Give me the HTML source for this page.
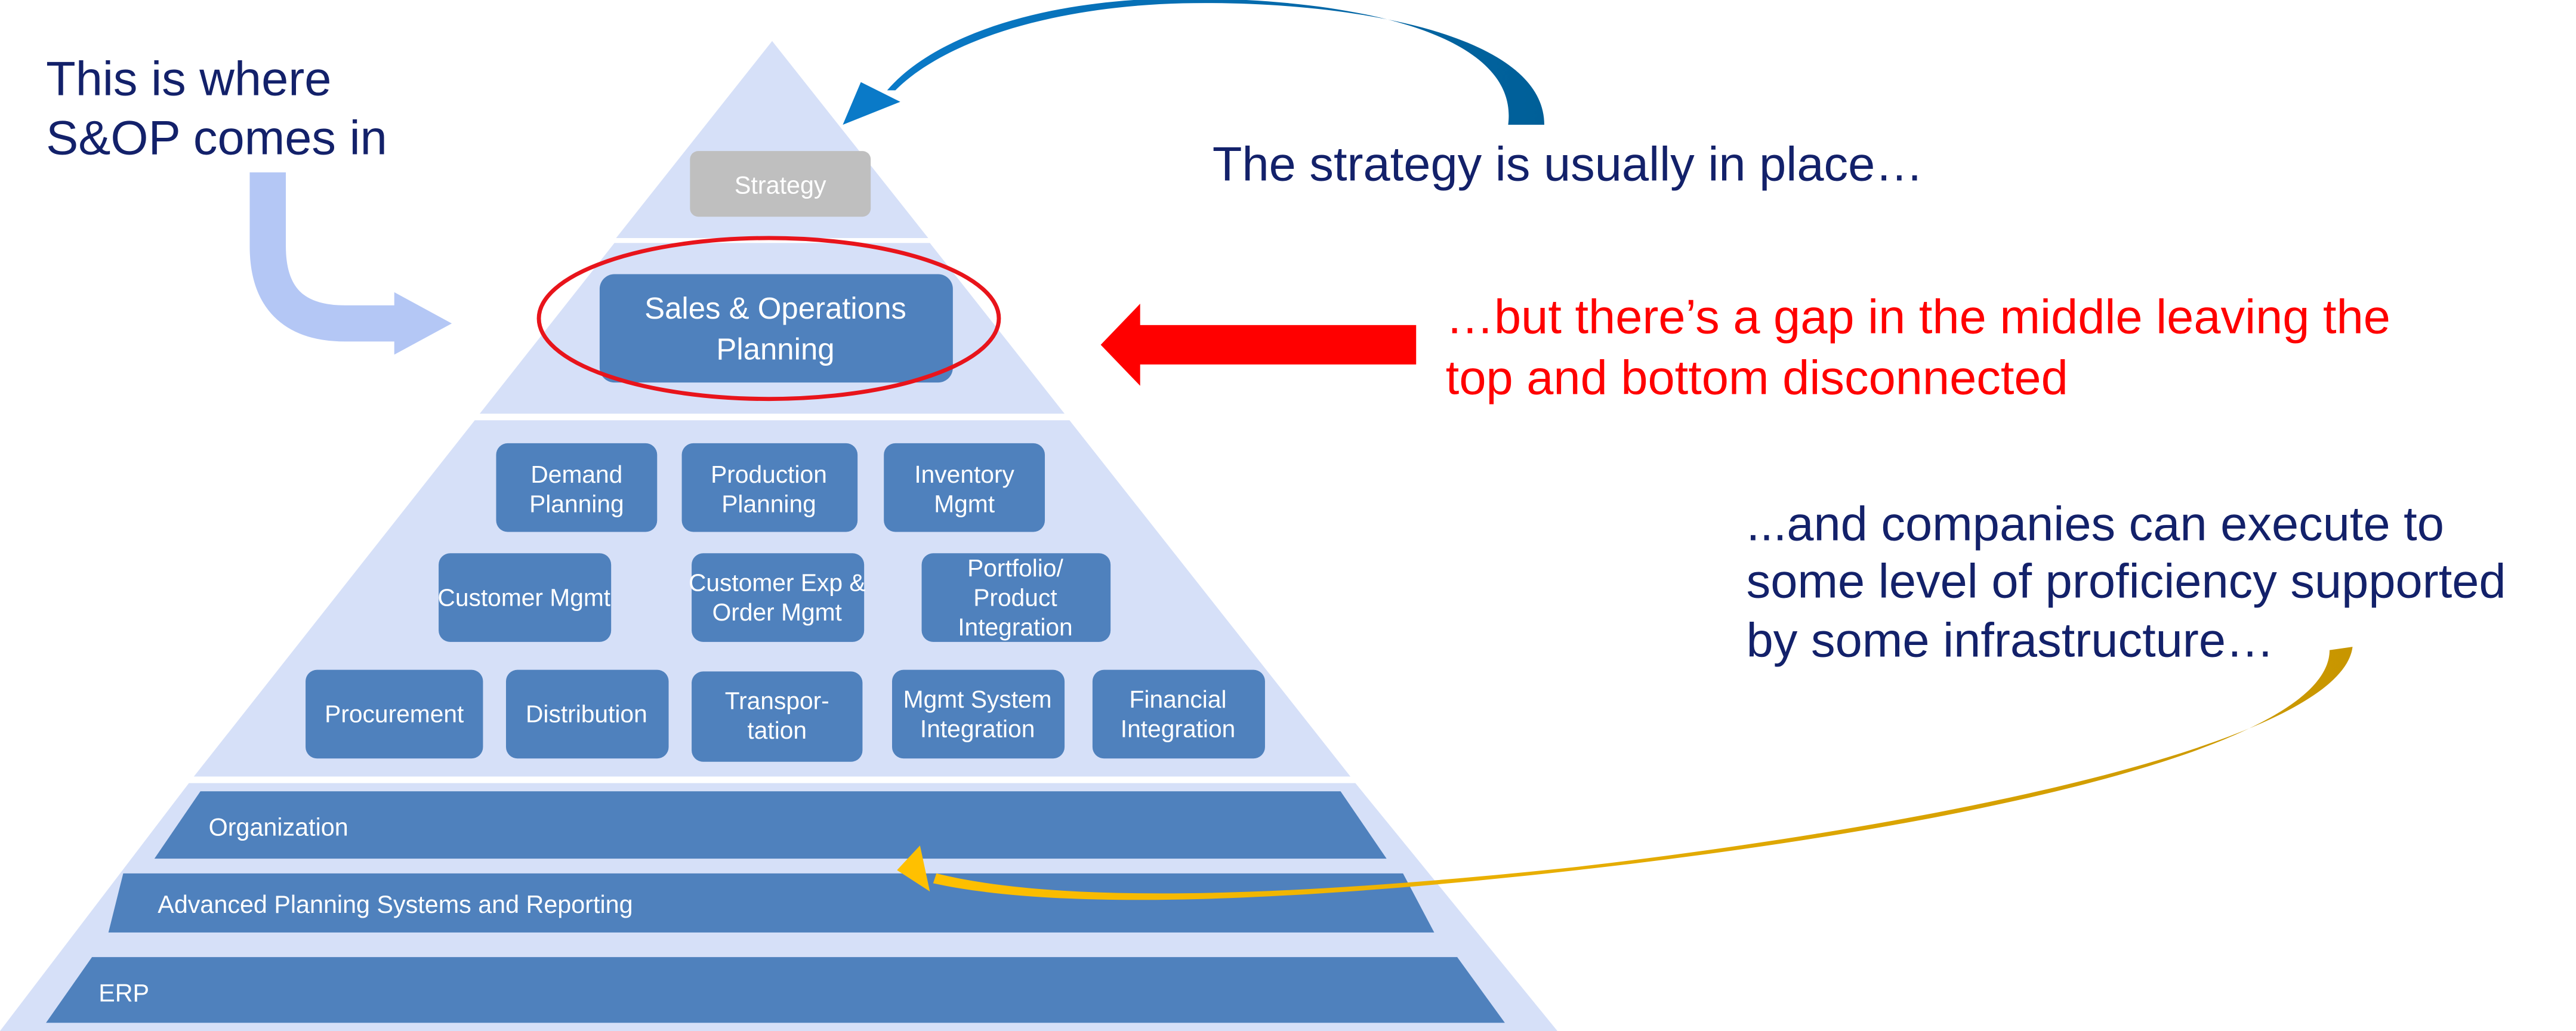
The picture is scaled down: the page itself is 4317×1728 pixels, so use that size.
<!DOCTYPE html>
<html><head><meta charset="utf-8"><style>
html,body{margin:0;padding:0;background:#fff}
svg{display:block}
text{font-family:"Liberation Sans",Arial,sans-serif}
</style></head><body>
<svg width="4317" height="1728" viewBox="0 0 1568 628" preserveAspectRatio="none" xmlns="http://www.w3.org/2000/svg">
<defs>
<linearGradient id="gb" x1="0" x2="1"><stop offset="0" stop-color="#0a7ac8"/><stop offset="1" stop-color="#005f98"/></linearGradient>
<linearGradient id="gy" x1="0" x2="1"><stop offset="0" stop-color="#ffc000"/><stop offset="1" stop-color="#c89600"/></linearGradient>
</defs>
<polygon points="470,25 565,145 375,145" fill="#d6e0f8"/>
<polygon points="374,148 566,148 648,252 292,252" fill="#d6e0f8"/>
<polygon points="289,256 651,256 822,473 118,473" fill="#d6e0f8"/>
<polygon points="115,477 825,477 948,628 0,628" fill="#d6e0f8"/>
<polygon points="122,482 816,482 844,523 94,523" fill="#4f81bd"/>
<polygon points="75,532 854,532 873,568 66,568" fill="#4f81bd"/>
<polygon points="56,583 887,583 916,623 28,623" fill="#4f81bd"/>
<g fill="#fff" font-size="15">
<text x="127" y="509">Organization</text>
<text x="96" y="556">Advanced Planning Systems and Reporting</text>
<text x="60" y="610">ERP</text>
</g>
<rect x="420" y="92" width="110" height="40" rx="5" fill="#bfbfbf"/>
<text x="475" y="118" fill="#fff" font-size="15" text-anchor="middle">Strategy</text>
<rect x="365" y="167" width="215" height="66" rx="9" fill="#4f81bd"/>
<g fill="#fff" font-size="18.5" text-anchor="middle">
<text x="472" y="194">Sales &amp; Operations</text>
<text x="472" y="219">Planning</text>
</g>
<ellipse cx="468" cy="194" rx="140" ry="49" fill="none" stroke="#e8141b" stroke-width="2.5"/>
<g fill="#4f81bd">
<rect x="302" y="270" width="98" height="54" rx="7"/>
<rect x="415" y="270" width="107" height="54" rx="7"/>
<rect x="538" y="270" width="98" height="54" rx="7"/>
<rect x="267" y="337" width="105" height="54" rx="7"/>
<rect x="421" y="337" width="105" height="54" rx="7"/>
<rect x="561" y="337" width="115" height="54" rx="7"/>
<rect x="186" y="408" width="108" height="54" rx="7"/>
<rect x="308" y="408" width="99" height="54" rx="7"/>
<rect x="421" y="409" width="104" height="55" rx="7"/>
<rect x="543" y="408" width="105" height="54" rx="7"/>
<rect x="665" y="408" width="105" height="54" rx="7"/>
</g>
<g fill="#fff" font-size="14.8" text-anchor="middle">
<text x="351" y="294">Demand</text><text x="351" y="312">Planning</text>
<text x="468" y="294">Production</text><text x="468" y="312">Planning</text>
<text x="587" y="294">Inventory</text><text x="587" y="312">Mgmt</text>
<text x="319" y="369">Customer Mgmt</text>
<text x="473" y="360">Customer Exp &amp;</text><text x="473" y="378">Order Mgmt</text>
<text x="618" y="351">Portfolio/</text><text x="618" y="369">Product</text><text x="618" y="387">Integration</text>
<text x="240" y="440">Procurement</text>
<text x="357" y="440">Distribution</text>
<text x="473" y="432">Transpor-</text><text x="473" y="450">tation</text>
<text x="595" y="431">Mgmt System</text><text x="595" y="449">Integration</text>
<text x="717" y="431">Financial</text><text x="717" y="449">Integration</text>
</g>
<g fill="#13216a" font-size="29.5">
<text x="28" y="58">This is where</text>
<text x="28" y="94">S&amp;OP comes in</text>
</g>
<path d="M163,105 L163,150 Q163,197 210,197 L245,197" fill="none" stroke="#b4c7f5" stroke-width="22"/>
<polygon points="240,178 275,197 240,216" fill="#b4c7f5"/>
<path d="M940,76 C940,20 820,0 720,2 C640,4 575,25 545,55 L540,55 C570,20 640,-1 720,-1 C830,-1 925,22 918,76 Z" fill="url(#gb)"/>
<polygon points="513,76 524,50 548,62" fill="#0a7ac8"/>
<text x="738" y="110" fill="#13216a" font-size="29.5">The strategy is usually in place…</text>
<rect x="690" y="198" width="172" height="24" fill="#ff0000"/>
<polygon points="670,210 694,185 694,235" fill="#ff0000"/>
<g fill="#ff0000" font-size="29.5">
<text x="880" y="203">…but there’s a gap in the middle leaving the</text>
<text x="880" y="240">top and bottom disconnected</text>
</g>
<g fill="#13216a" font-size="29.5">
<text x="1063" y="329">...and companies can execute to</text>
<text x="1063" y="364">some level of proficiency supported</text>
<text x="1063" y="400">by some infrastructure…</text>
</g>
<path d="M1432,394 C1425,450 1200,500 960,528 C800,545 650,552 570,532 L568,538 C650,556 800,548 960,530 C1200,503 1418,455 1418,396 Z" fill="url(#gy)"/>
<polygon points="546,530 560,515 566,543" fill="#ffc000"/>
</svg>
</body></html>
